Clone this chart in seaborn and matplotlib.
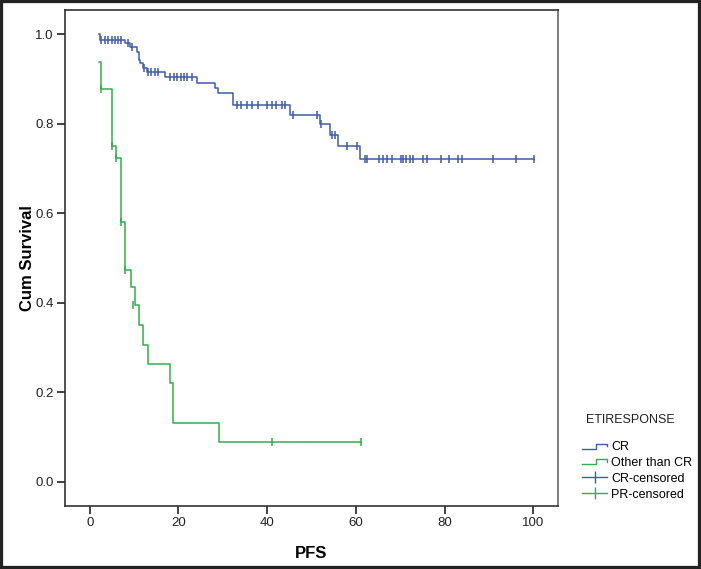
import numpy as np
import pandas as pd
import matplotlib
matplotlib.use("Agg")
import matplotlib.pyplot as plt
import seaborn as sns
from matplotlib.lines import Line2D
from matplotlib.legend_handler import HandlerBase
from matplotlib.patches import Rectangle

# Kaplan-Meier steps, CR group
cr_time = [2.0, 2.4, 7.9, 9.0, 10.6, 11.0, 11.3, 12.0, 12.9, 16.9, 24.1, 28.2,
           29.0, 32.3, 45.1, 51.9, 54.2, 56.0, 61.0, 100.2]
cr_surv = [1.0, 0.987, 0.980, 0.971, 0.960, 0.942, 0.935, 0.924, 0.915, 0.904,
           0.890, 0.880, 0.868, 0.841, 0.819, 0.800, 0.775, 0.750, 0.720, 0.720]

# censored CR cases
cr_cens_time = [2.6, 3.4, 4.2, 4.9, 5.6, 6.4, 7.1, 8.5, 9.6, 12.3,
                13.2, 13.9, 14.7, 15.4,
                18.1, 19.0, 19.7, 20.5, 21.2, 22.0, 23.0,
                33.1, 34.2, 35.4, 36.5, 38.0, 39.9, 41.0, 42.1, 43.3, 44.0,
                45.8, 51.2, 52.1, 54.6, 55.3, 58.0, 60.3,
                62.1, 62.6, 65.2, 66.2, 67.1, 68.1, 70.2, 70.7, 71.3, 72.2,
                73.0, 75.2, 76.0, 79.2, 81.1, 83.1, 83.9, 91.0, 96.1, 100.2]
cr_cens_surv = [0.987, 0.987, 0.987, 0.987, 0.987, 0.987, 0.987, 0.980, 0.971, 0.924,
                0.915, 0.915, 0.915, 0.915,
                0.904, 0.904, 0.904, 0.904, 0.904, 0.904, 0.904,
                0.841, 0.841, 0.841, 0.841, 0.841, 0.841, 0.841, 0.841, 0.841, 0.841,
                0.819, 0.819, 0.800, 0.775, 0.775, 0.750, 0.750,
                0.720, 0.720, 0.720, 0.720, 0.720, 0.720, 0.720, 0.720, 0.720, 0.720,
                0.720, 0.720, 0.720, 0.720, 0.720, 0.720, 0.720, 0.720, 0.720, 0.720]

# Kaplan-Meier steps, other than CR
oth_time = [2.1, 2.5, 4.9, 6.0, 7.1, 8.0, 9.2, 10.2, 11.1, 12.0, 13.2, 18.1,
            18.8, 29.1, 61.2]
oth_surv = [0.938, 0.877, 0.750, 0.723, 0.580, 0.473, 0.435, 0.395, 0.350,
            0.306, 0.263, 0.220, 0.132, 0.089, 0.089]

pr_cens_time = [2.5, 5.1, 6.0, 7.1, 7.9, 9.8, 41.2, 61.2]
pr_cens_surv = [0.877, 0.750, 0.723, 0.580, 0.473, 0.395, 0.089, 0.089]

legend_labels = ['CR', 'Other than CR', 'CR-censored', 'PR-censored']

blue = "#3F5BAA"
green = "#2DAF4A"


class StepHandler(HandlerBase):
    # SPSS style step glyph for survival lines in the legend
    def create_artists(self, legend, orig_handle, xdescent, ydescent,
                       width, height, fontsize, trans):
        x0, x1 = -xdescent, -xdescent + width
        lo, hi = -ydescent + height * 0.2, -ydescent + height * 0.75
        xm = x0 + width * 0.55
        line = Line2D([x0, xm, xm, x1, x1], [lo, lo, hi, hi, hi - height * 0.25],
                      color=orig_handle.get_color(), lw=1.0, transform=trans)
        return [line]


plt.rcParams['font.family'] = ['Liberation Sans', 'DejaVu Sans']
fig = plt.figure(figsize=(7.01, 5.69), dpi=100)
ax = fig.add_axes([65 / 701, 63 / 569, (558 - 65) / 701, (506 - 9.5) / 569])

cr = pd.DataFrame({'t': cr_time, 's': cr_surv})
oth = pd.DataFrame({'t': oth_time, 's': oth_surv})
sns.lineplot(data=cr, x='t', y='s', estimator=None, sort=False,
             drawstyle='steps-post', color=blue, lw=1.1, ax=ax)
sns.lineplot(data=oth, x='t', y='s', estimator=None, sort=False,
             drawstyle='steps-post', color=green, lw=1.1, ax=ax)

ax.plot(cr_cens_time, cr_cens_surv, ls='none', marker='|', ms=6, mew=1.1, color=blue)
ax.plot(pr_cens_time, pr_cens_surv, ls='none', marker='|', ms=6, mew=1.1, color=green)

ax.set_xlim(-5.6, 105.6)
ax.set_ylim(-0.054, 1.055)
ax.set_xticks([0, 20, 40, 60, 80, 100])
ax.set_yticks([0.0, 0.2, 0.4, 0.6, 0.8, 1.0])
ax.set_yticklabels(['0.0', '0.2', '0.4', '0.6', '0.8', '1.0'])
ax.tick_params(direction='out', length=6, width=1.2, labelsize=9.5, color='#222222',
               labelcolor='#222222', pad=2)
for sp in ax.spines.values():
    sp.set_color('#333333')
    sp.set_linewidth(1.2)
ax.spines['right'].set_color('#666666')
ax.set_xlabel('PFS', fontsize=12, fontweight='bold', labelpad=12)
ax.set_ylabel('Cum Survival', fontsize=12, fontweight='bold', labelpad=0)

h_cr = Line2D([], [], color=blue)
h_oth = Line2D([], [], color=green)
h_crc = Line2D([], [], color=blue, marker='|', ms=9, mew=1.0, lw=1.0)
h_prc = Line2D([], [], color=green, marker='|', ms=9, mew=1.0, lw=1.0)
fig.legend([h_cr, h_oth, h_crc, h_prc], legend_labels, loc='upper left',
           bbox_to_anchor=(571 / 701, 1 - 430 / 569), frameon=False,
           fontsize=9, handlelength=2.0, handletextpad=0.3, labelspacing=0.3,
           handler_map={h_cr: StepHandler(), h_oth: StepHandler()})
fig.text(630 / 701, 1 - 420 / 569, 'ETIRESPONSE', ha='center', va='center',
         fontsize=9, color='#222222')

fig.patches.append(Rectangle((0, 0), 1, 1, transform=fig.transFigure, fill=False,
                             edgecolor='#222222', lw=4.5))

fig.savefig('out.png', dpi=100)
